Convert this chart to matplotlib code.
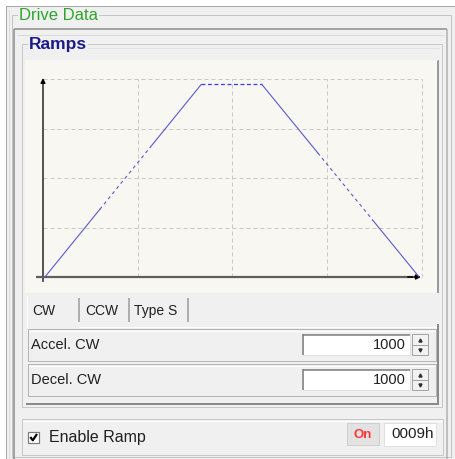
#!/usr/bin/env python3
"""Drive Data panel: trapezoid ramp preview with the CW accel/decel settings."""
import matplotlib
matplotlib.use("Agg")
import matplotlib.pyplot as plt
import numpy as np
from matplotlib.patches import Rectangle

plt.rcParams.update({"font.family": ["Liberation Sans", "DejaVu Sans"]})

# ramp profile in grid units (time, speed)
ramp_t = [0.02, 1.67, 2.31, 3.97]
ramp_v = [0.0, 3.89, 3.89, 0.0]
# stretches of the accel / decel slopes that render dashed
accel_dash = (0.60, 1.13)
decel_dash = (2.90, 3.48)
grid_ticks = [0, 1, 2, 3, 4]

tab_names = ["CW", "CCW", "Type S"]
row_names = ["Accel. CW", "Decel. CW"]
row_values = [1000, 1000]
state_text = "On"
status_code = "0009h"

W, H = 456, 459
fig = plt.figure(figsize=(W / 100, H / 100), dpi=100)
bg = fig.add_axes([0, 0, 1, 1])
bg.set_xlim(0, W)
bg.set_ylim(H, 0)
bg.axis("off")

PX = 0.72  # one pixel in points


def box(x0, y0, x1, y1, fc="none", ec="none", lw=1, z=1):
    bg.add_patch(Rectangle((x0, y0), x1 - x0, y1 - y0, fc=fc, ec=ec,
                           lw=lw * PX, zorder=z))


def line(xs, ys, color, lw=1, z=2):
    bg.plot(xs, ys, color=color, lw=lw * PX, zorder=z,
            solid_capstyle="butt")


# window background
box(0, 0, W, H, fc="white", z=0)
box(6, 6, W, H + 2, fc="#f0f0f0", ec="#a8a8a8", z=0.5)
line([9, 9], [9, H], "#dcdcdc")

# "Drive Data" group
box(12, 15, 451, H - 2, ec="#c4c4c4")
bg.text(19, 15, "Drive Data", color="#2ea42e", fontsize=12, va="center",
        ha="left", zorder=5,
        bbox=dict(fc="#f0f0f0", ec="none", pad=0.5))
# sunken inner panel
line([14, 447], [29, 29], "#8c8c8c", 1.5)
line([14.5, 14.5], [29, H], "#8c8c8c", 1.5)
line([447.5, 447.5], [29, H], "#b0b0b0", 1.5)
line([17, 444], [35, 35], "#dadada")

# "Ramps" group
box(22, 44, 442, 407, ec="#c8c8c8")
line([25, 439], [48, 48], "#e2e2e2")
bg.text(29, 45, "Ramps", color="#1c1c88", fontsize=12.5, fontweight="bold",
        va="center", ha="left", zorder=5,
        bbox=dict(fc="#f0f0f0", ec="none", pad=0.5))

# chart area (cream), mapped in grid units
cl, cr, ct, cb = 25, 437, 60, 293
x0_px, xs_px = 43, 94.75
y0_px, ys_px = 277, 49.5
ax = fig.add_axes([cl / W, (H - cb) / H, (cr - cl) / W, (cb - ct) / H])
ax.set_facecolor("#f8f7f1")
ax.set_xlim((cl - x0_px) / xs_px, (cr - x0_px) / xs_px)
ax.set_ylim((y0_px - cb) / ys_px, (y0_px - ct) / ys_px)
for s in ax.spines.values():
    s.set_visible(False)
ax.set_xticks([])
ax.set_yticks([])
line([cr + 1, cr + 1], [ct, cb], "#9a9a9a", 2)
line([cl, cr], [ct - 0.5, ct - 0.5], "#ffffff", 1)

grid_kw = dict(color="#c8c8c8", lw=1 * PX, ls=(0, (4, 3)), zorder=1)
for g in grid_ticks[1:]:
    ax.plot([grid_ticks[0], grid_ticks[-1]], [g, g], **grid_kw)
    ax.plot([g, g], [grid_ticks[0], grid_ticks[-1]], **grid_kw)

# axes with arrowheads
ax.annotate("", xy=(0, 4.02), xytext=(0, -0.09),
            arrowprops=dict(arrowstyle="-|>", color="black", lw=1.3 * PX,
                            mutation_scale=7, shrinkA=0, shrinkB=0),
            zorder=4)
ax.plot([-0.07, 3.9], [0, 0], color="#5e5e5e", lw=2.2 * PX, zorder=4,
        solid_capstyle="butt")
ax.annotate("", xy=(3.99, 0), xytext=(3.85, 0),
            arrowprops=dict(arrowstyle="-|>", color="black", lw=1.5 * PX,
                            mutation_scale=7, shrinkA=0, shrinkB=0),
            zorder=4)

# ramp: slopes partly dashed, plateau dashed
slope_c = "#5858cc"
t = np.array(ramp_t)
v = np.array(ramp_v)


def slope(ta, tb, va, vb, span):
    cuts = [ta, span[0], span[1], tb]
    vals = np.interp(cuts, [ta, tb], [va, vb])
    ax.plot(cuts[:2], vals[:2], color=slope_c, lw=1.1 * PX, zorder=5)
    ax.plot(cuts[1:3], vals[1:3], color=slope_c, lw=1.1 * PX, zorder=5,
            ls=(0, (3, 3)))
    ax.plot(cuts[2:], vals[2:], color=slope_c, lw=1.1 * PX, zorder=5)


slope(t[0], t[1], v[0], v[1], accel_dash)
ax.plot(t[1:3], v[1:3], color="#3c3cff", lw=1.3 * PX, ls=(0, (3, 2)),
        zorder=5)
slope(t[2], t[3], v[2], v[3], decel_dash)

# tab strip
line([27, 27], [296, 327], "#ffffff")
for xs in (79, 129, 188):
    line([xs, xs], [298, 322], "#9a9a9a", 1.5)
for name, xt in zip(tab_names, (32, 85, 134)):
    bg.text(xt, 311, name, fontsize=10, va="center", ha="left",
            color="#202020", zorder=5)

# tab page
line([80, 438], [327, 327], "#ffffff")
line([438.5, 438.5], [324, 404], "#8a8a8a", 2)
line([26, 439], [403.5, 403.5], "#8a8a8a", 2)
for i, (name, val) in enumerate(zip(row_names, row_values)):
    top = 329 + i * 35
    box(28, top, 436, top + 32, ec="#b4b4b4")
    line([29, 435], [top + 1.5, top + 1.5], "#ffffff")
    yc = top + 16
    bg.text(31, yc, name, fontsize=10.5, va="center", ha="left",
            color="#202020", zorder=5)
    # edit field
    box(303, yc - 11, 410, yc + 10, fc="white", ec="#e0e0e0")
    line([303, 410], [yc - 10.5, yc - 10.5], "#7c7c7c", 1.5)
    line([303.5, 303.5], [yc - 11, yc + 10], "#7c7c7c", 1.5)
    bg.text(406, yc, f"{val}", fontsize=10.5, va="center", ha="right",
            color="#202020", zorder=5)
    # spin buttons
    box(412, yc - 11, 428, yc + 10, fc="#f2f2f2", ec="#a4a4a4")
    line([412, 428], [yc - 0.5, yc - 0.5], "#a4a4a4")
    bg.plot([420], [yc - 5.5], marker="^", ms=2.2, color="#303030",
            zorder=6)
    bg.plot([420], [yc + 5], marker="v", ms=2.2, color="#303030",
            zorder=6)

# enable ramp strip
box(22, 419, 443, 455, ec="#c8c8c8")
line([23, 442], [420.5, 420.5], "#ffffff")
box(28, 432, 39, 443, fc="white", ec="#7a7a7a", lw=1.2)
line([30.3, 32.8, 37], [437, 440.3, 434], "black", 2.2, z=6)
bg.text(49, 437.5, "Enable Ramp", fontsize=11.5, va="center", ha="left",
        color="#202020", zorder=5)
box(347, 423, 379, 445, fc="#e2e2e2", ec="#cfcfcf")
bg.text(362.5, 434.5, state_text, fontsize=9.5, fontweight="bold",
        color="#ff3434", va="center", ha="center", zorder=5)
box(384, 423, 436, 446, fc="white", ec="#e0e0e0")
bg.text(434, 434.5, status_code, fontsize=11, va="center", ha="right",
        color="#202020", zorder=5)

fig.savefig("out.png", dpi=100)
